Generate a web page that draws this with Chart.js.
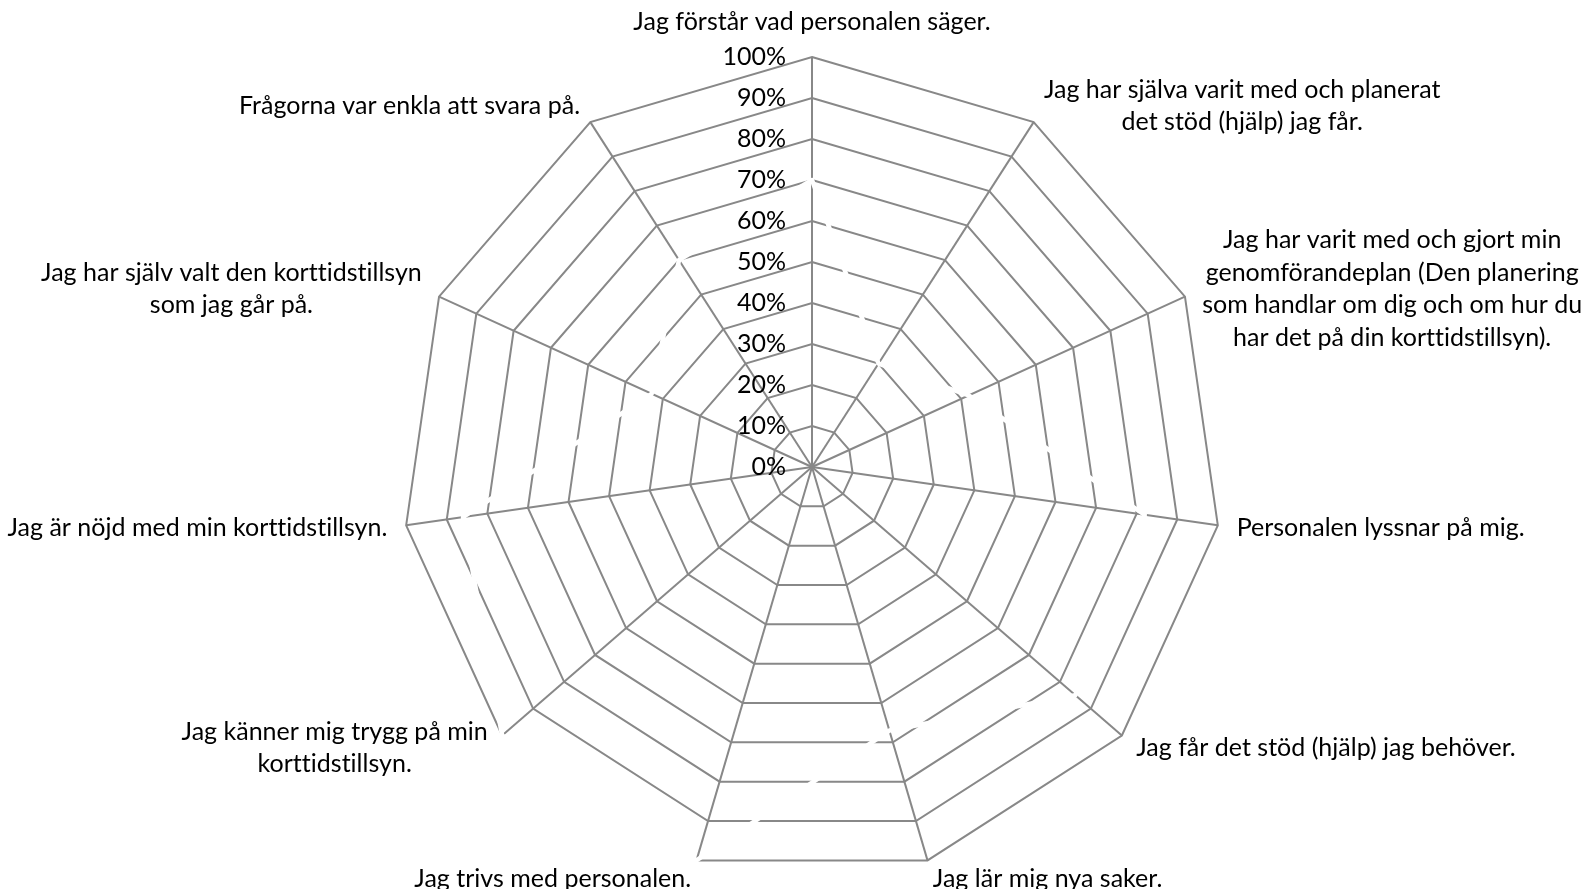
<!DOCTYPE html>
<html>
<head>
<meta charset="utf-8">
<script src="https://cdn.jsdelivr.net/npm/chart.js@4/dist/chart.umd.min.js"></script>
<style>
  html, body { margin: 0; padding: 0; background: #fff; }
  #wrap { width: 1583px; height: 889px; position: relative; }
</style>
</head>
<body>
<div id="wrap"><canvas id="chart"></canvas></div>
<script>
// Questions (one spoke each), clockwise from the top
const categories = [
    'Jag förstår vad personalen säger.',
    ['Jag har själva varit med och planerat', 'det stöd (hjälp) jag får.'],
    ['Jag har varit med och gjort min', 'genomförandeplan (Den planering', 'som handlar om dig och om hur du', 'har det på din korttidstillsyn).'],
    'Personalen lyssnar på mig.',
    'Jag får det stöd (hjälp) jag behöver.',
    'Jag lär mig nya saker.',
    'Jag trivs med personalen.',
    ['Jag känner mig trygg på min', 'korttidstillsyn.'],
    'Jag är nöjd med min korttidstillsyn.',
    ['Jag har själv valt den korttidstillsyn', 'som jag går på.'],
    'Frågorna var enkla att svara på.'
];

// Share answering yes (%), drawn as a white line in the original
const values = [70, 30, 42, 82, 85, 67, 100, 100, 86, 43, 60];

const tickMin = 0;
const tickMax = 100;
const tickStep = 10;

const FONT = 'Lato, "Open Sans", sans-serif';
const FONT_SIZE = 25;
const LINE_H = 32.5;

// draws the percent ticks left of the top spoke and the question texts
const textPlugin = {
    id: 'radarText',
    afterDraw(chart) {
        const scale = chart.scales.r;
        const ctx = chart.ctx;
        ctx.save();
        ctx.fillStyle = '#000';
        ctx.font = FONT_SIZE + 'px ' + FONT;
        // no "tt" ligatures
        ctx.textRendering = 'optimizeSpeed';
        ctx.letterSpacing = '0.01px';

        ctx.textAlign = 'right';
        ctx.textBaseline = 'middle';
        scale.ticks.forEach(t => {
            const d = scale.getDistanceFromCenterForValue(t.value);
            ctx.fillText(t.value + '%', scale.xCenter - 26, scale.yCenter - d);
        });

        ctx.textAlign = 'center';
        chart.data.labels.forEach((lab, i) => {
            const lines = Array.isArray(lab) ? lab : [lab];
            const p = scale.getPointPosition(i, scale.drawingArea + 19);
            const a = scale.getIndexAngle(i);
            const s = Math.sin(a);
            const w = Math.max(...lines.map(l => ctx.measureText(l).width));
            const h = lines.length * LINE_H;
            let cx = p.x;
            let cy = p.y;
            if (Math.abs(s) < 0.05) {
                cy = p.y - Math.sign(Math.cos(a)) * h / 2;
            } else if (s > 0) {
                cx = p.x + w / 2;
            } else {
                cx = p.x - w / 2;
            }
            lines.forEach((l, k) => {
                ctx.fillText(l, cx, cy - h / 2 + LINE_H * (k + 0.5));
            });
        });
        ctx.restore();
    }
};

const ctx = document.getElementById('chart').getContext('2d');

new Chart(ctx, {
    type: 'radar',
    data: {
        labels: categories,
        datasets: [{
            label: 'Andel',
            data: values,
            borderColor: '#ffffff',
            borderWidth: 4.5,
            borderJoinStyle: 'round',
            backgroundColor: 'rgba(0,0,0,0)',
            fill: false,
            pointRadius: 0,
            pointHoverRadius: 0
        }]
    },
    options: {
        responsive: true,
        maintainAspectRatio: false,
        devicePixelRatio: 1,
        animation: false,
        layout: {
            padding: { top: 57, bottom: 12, left: 42, right: 0 }
        },
        scales: {
            r: {
                min: tickMin,
                max: tickMax,
                ticks: { stepSize: tickStep, display: false },
                pointLabels: { display: false },
                grid: { color: '#888888', lineWidth: 2 },
                angleLines: { color: '#888888', lineWidth: 2 }
            }
        },
        plugins: {
            legend: { display: false },
            tooltip: { enabled: false }
        }
    },
    plugins: [textPlugin]
});
</script>
</body>
</html>
